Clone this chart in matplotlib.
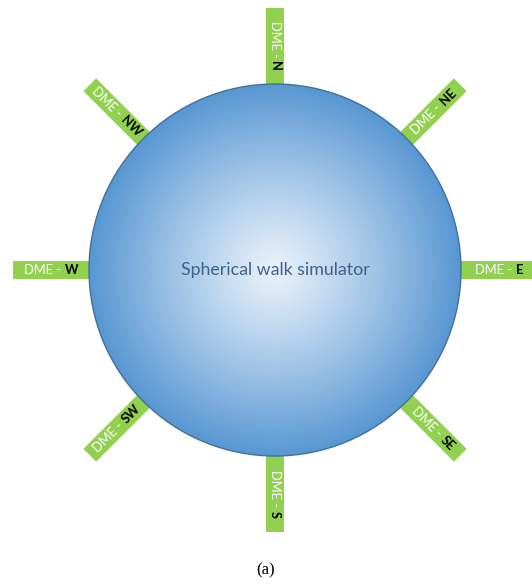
import numpy as np
import matplotlib
matplotlib.use("Agg")
import matplotlib.pyplot as plt
from matplotlib.patches import Circle, Polygon

# ---- data ----
directions = ["E", "NE", "N", "NW", "W", "SW", "S", "SE"]
angles_deg = [0, 45, 90, 135, 180, 225, 270, 315]       # outward direction (math convention)
text_rot = [0, 45, -90, -45, 0, 45, -90, -45]            # reading rotation of label text
prefix = "DME -"
center_label = "Spherical walk simulator"
caption = "(a)"

W, H = 532, 584
fig = plt.figure(figsize=(W / 100, H / 100), dpi=100)
ax = fig.add_axes([0, 0, 1, 1])
ax.set_xlim(0, W)
ax.set_ylim(H, 0)
ax.axis("off")

cx, cy, R = 275, 270, 186
L = 76
bw = 18
green = "#92D050"
font = "Lato"

# arms
for ang in angles_deg:
    a = np.deg2rad(ang)
    d = np.array([np.cos(a), -np.sin(a)])      # data coords (y down)
    p = np.array([-d[1], d[0]])
    r0, r1 = R - 20, R + L
    c0 = np.array([cx, cy]) + d * r0
    c1 = np.array([cx, cy]) + d * r1
    pts = [c0 + p * bw / 2, c1 + p * bw / 2, c1 - p * bw / 2, c0 - p * bw / 2]
    ax.add_patch(Polygon(pts, closed=True, facecolor=green, edgecolor="none", zorder=1))

# circle with radial gradient
n = 400
xs = np.linspace(cx - R, cx + R, n)
ys = np.linspace(cy - R, cy + R, n)
X, Y = np.meshgrid(xs, ys)
D = np.clip(np.sqrt((X - cx) ** 2 + (Y - cy) ** 2) / R, 0, 1)
c_in = np.array([234, 242, 251]) / 255
c_out = np.array([88, 151, 210]) / 255
t = D ** 1.1
img = c_in[None, None, :] * (1 - t[..., None]) + c_out[None, None, :] * t[..., None]
im = ax.imshow(img, extent=(cx - R, cx + R, cy + R, cy - R), zorder=2, interpolation="bilinear")
circ = Circle((cx, cy), R, facecolor="none", edgecolor="#41719c", lw=1.0, zorder=3)
ax.add_patch(circ)
im.set_clip_path(circ)
ax.set_xlim(0, W)
ax.set_ylim(H, 0)

ax.text(cx, cy, center_label, fontsize=12.8, family=font, color="#3f6189",
        ha="center", va="center", zorder=4)

# labels
fig.canvas.draw()
renderer = fig.canvas.get_renderer()
fs = 9.3
tmp1 = ax.text(0, 0, prefix, fontsize=fs, family=font)
w1 = tmp1.get_window_extent(renderer).width
tmp1.remove()
gap = 4
for ang, rot, name in zip(angles_deg, text_rot, directions):
    a = np.deg2rad(ang)
    d = np.array([np.cos(a), -np.sin(a)])
    mid = np.array([cx, cy]) + d * (R + L / 2)
    tmp2 = ax.text(0, 0, name, fontsize=fs, family=font, fontweight="bold")
    w2 = tmp2.get_window_extent(renderer).width
    tmp2.remove()
    total = w1 + gap + w2
    rr = np.deg2rad(rot)
    rd = np.array([np.cos(rr), -np.sin(rr)])
    start = mid - rd * total / 2
    ax.text(start[0], start[1], prefix, fontsize=fs, family=font, color="white",
            rotation=rot, rotation_mode="anchor", ha="left", va="center", zorder=5)
    s2 = start + rd * (w1 + gap)
    ax.text(s2[0], s2[1], name, fontsize=fs, family=font, color="black", fontweight="bold",
            rotation=rot, rotation_mode="anchor", ha="left", va="center", zorder=5)

ax.text(266, 570, caption, fontsize=12, family="Liberation Serif", color="black",
        ha="center", va="center")

fig.savefig("out.png", dpi=100)
